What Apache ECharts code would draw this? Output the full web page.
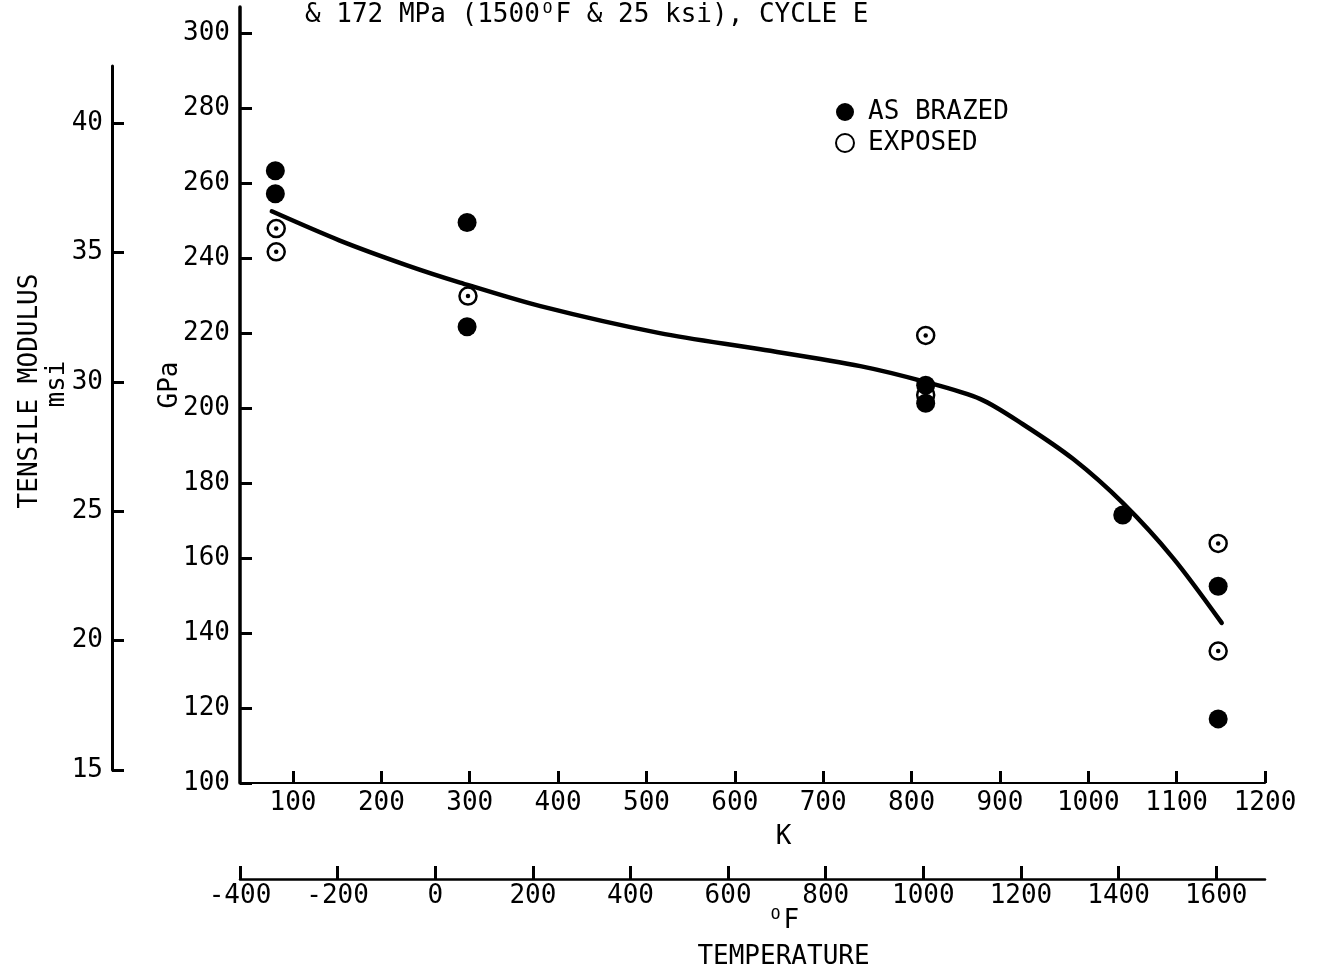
<!DOCTYPE html>
<html>
<head>
<meta charset="utf-8">
<script src="https://cdn.jsdelivr.net/npm/echarts@6/dist/echarts.min.js"></script>
<style>
  html, body { margin: 0; padding: 0; background: #ffffff; }
  #chart { width: 1319px; height: 971px; }
</style>
</head>
<body>
<div id="chart"></div>
<script>
// Tick values for each scale
const kelvinTicks = [100, 200, 300, 400, 500, 600, 700, 800, 900, 1000, 1100, 1200];
const fahrenheitTicks = [-400, -200, 0, 200, 400, 600, 800, 1000, 1200, 1400, 1600];
const gpaTicks = [100, 120, 140, 160, 180, 200, 220, 240, 260, 280, 300];
const msiTicks = [15, 20, 25, 30, 35, 40];

// Tensile modulus measurements: [temperature K, modulus GPa]
const asBrazed = [
  [80, 263.3], [80, 257.2],
  [297, 249.5], [297, 221.7],
  [816, 206.1], [816, 201.3],
  [1039, 171.5],
  [1147, 152.5], [1147, 117.1]
];
const exposed = [
  [81, 247.9], [81, 241.7],
  [298, 229.9],
  [816, 219.4], [816, 203.5],
  [1147, 163.9], [1147, 135.2]
];

// Faired trend curve through the data: [temperature K, modulus GPa]
const trendCurve = [
  [76, 252.5], [153, 244.7], [229, 238.1], [289, 233.5], [380, 227.2],
  [515, 220.0], [629, 215.7], [742, 211.2], [817, 206.9], [878, 202.4],
  [926, 195.7], [983, 186.4], [1039, 174.7], [1096, 160.0], [1151, 142.7]
];

const FONT = "'DejaVu Sans Mono', 'Liberation Mono', monospace";
const INK = '#000000';
const baseText = { fontFamily: FONT, fontSize: 26, color: INK };
const plainNumber = function (v) { return String(v); };

const chart = echarts.init(document.getElementById('chart'), null, { renderer: 'canvas' });

chart.setOption({
  backgroundColor: '#ffffff',
  animation: false,
  textStyle: { fontFamily: FONT, color: INK },
  title: {
    text: '& 172 MPa (1500ᴼF & 25 ksi), CYCLE E',
    left: 305,
    top: 2,
    padding: 0,
    textStyle: Object.assign({}, baseText, { fontWeight: 'normal' })
  },
  legend: {
    orient: 'vertical',
    left: 830,
    top: 94,
    itemWidth: 36,
    itemHeight: 18,
    itemGap: 5,
    selectedMode: false,
    textStyle: Object.assign({}, baseText, { lineHeight: 18 }),
    data: ['AS BRAZED', 'EXPOSED']
  },
  grid: [
    // main plot: K vs GPa
    { left: 240, right: 54, top: 7, bottom: 188, outerBoundsMode: 'none', containLabel: false },
    // Fahrenheit scale below
    { left: 240, right: 54, top: 850, height: 29, outerBoundsMode: 'none', containLabel: false },
    // msi scale on the far left
    { left: 112, width: 10, top: 66, bottom: 201, outerBoundsMode: 'none', containLabel: false }
  ],
  xAxis: [
    {
      gridIndex: 0, type: 'value', min: 40, max: 1200,
      name: '{n|K}', nameLocation: 'middle', nameGap: 41, nameMoveOverlap: false,
      nameTextStyle: Object.assign({ rich: { n: Object.assign({ padding: [0, 0, 0, 62] }, baseText) } }, baseText),
      axisLine: { show: true, onZero: false, lineStyle: { color: INK, width: 2 } },
      axisTick: { show: true, inside: true, length: 12, lineStyle: { color: INK, width: 3 }, customValues: kelvinTicks },
      axisLabel: Object.assign({ margin: 7, customValues: kelvinTicks, formatter: plainNumber }, baseText),
      splitLine: { show: false }
    },
    {
      gridIndex: 1, type: 'value', min: -400, max: 1700,
      name: '{n|ᴼF}\n{n|TEMPERATURE}', nameLocation: 'middle', nameGap: 24, nameMoveOverlap: false,
      nameTextStyle: Object.assign({ lineHeight: 36, rich: { n: Object.assign({ lineHeight: 36, padding: [0, 0, 0, 62] }, baseText) } }, baseText),
      axisLine: { show: true, onZero: false, lineStyle: { color: INK, width: 2.5 } },
      axisTick: { show: true, inside: true, length: 13, lineStyle: { color: INK, width: 3 }, customValues: fahrenheitTicks },
      axisLabel: Object.assign({ margin: 4, customValues: fahrenheitTicks, formatter: plainNumber }, baseText),
      splitLine: { show: false }
    },
    { gridIndex: 2, type: 'value', show: false, min: 0, max: 1 }
  ],
  yAxis: [
    {
      gridIndex: 0, type: 'value', min: 100, max: 307,
      name: '{n|GPa}', nameLocation: 'middle', nameGap: 57, nameRotate: 90, nameMoveOverlap: false,
      nameTextStyle: Object.assign({ rich: { n: Object.assign({ padding: [0, 0, 0, 20] }, baseText) } }, baseText),
      axisLine: { show: true, onZero: false, lineStyle: { color: INK, width: 3.5 } },
      axisTick: { show: true, inside: true, length: 12, lineStyle: { color: INK, width: 3 }, customValues: gpaTicks },
      axisLabel: Object.assign({ margin: 10, customValues: gpaTicks, formatter: plainNumber }, baseText),
      splitLine: { show: false }
    },
    { gridIndex: 1, type: 'value', show: false, min: 0, max: 1 },
    {
      gridIndex: 2, type: 'value', min: 15, max: 42.22,
      name: '{a|TENSILE MODULUS}\n{b|msi}', nameLocation: 'middle', nameGap: 41, nameRotate: 90, nameMoveOverlap: false,
      nameTextStyle: Object.assign({
        lineHeight: 27,
        rich: {
          a: Object.assign({ lineHeight: 27, padding: [0, 0, 0, 54] }, baseText),
          b: Object.assign({ lineHeight: 27, padding: [0, 0, 0, 68] }, baseText)
        }
      }, baseText),
      axisLine: { show: true, onZero: false, lineStyle: { color: INK, width: 3 } },
      axisTick: { show: true, inside: true, length: 12, lineStyle: { color: INK, width: 3 }, customValues: msiTicks },
      axisLabel: Object.assign({ margin: 9, customValues: msiTicks, formatter: plainNumber }, baseText),
      splitLine: { show: false }
    }
  ],
  series: [
    {
      name: 'EXPOSED', type: 'scatter', xAxisIndex: 0, yAxisIndex: 0, z: 2,
      data: exposed, symbol: 'circle', symbolSize: 17,
      itemStyle: { color: '#ffffff', borderColor: INK, borderWidth: 2.5, opacity: 1 },
      emphasis: { disabled: true }, silent: true
    },
    {
      name: 'EXPOSED centre', type: 'scatter', xAxisIndex: 0, yAxisIndex: 0, z: 3,
      data: exposed, symbol: 'circle', symbolSize: 4.5,
      itemStyle: { color: INK, opacity: 1 },
      emphasis: { disabled: true }, silent: true
    },
    {
      name: 'AS BRAZED', type: 'scatter', xAxisIndex: 0, yAxisIndex: 0, z: 4,
      data: asBrazed, symbol: 'circle', symbolSize: 19,
      itemStyle: { color: INK, opacity: 1 },
      emphasis: { disabled: true }, silent: true
    },
    {
      name: 'trend', type: 'line', xAxisIndex: 0, yAxisIndex: 0, z: 5,
      data: trendCurve, smooth: 0.3, showSymbol: false, symbol: 'none',
      lineStyle: { color: INK, width: 4.5, cap: 'round' },
      emphasis: { disabled: true }, silent: true
    }
  ]
});
</script>
</body>
</html>
